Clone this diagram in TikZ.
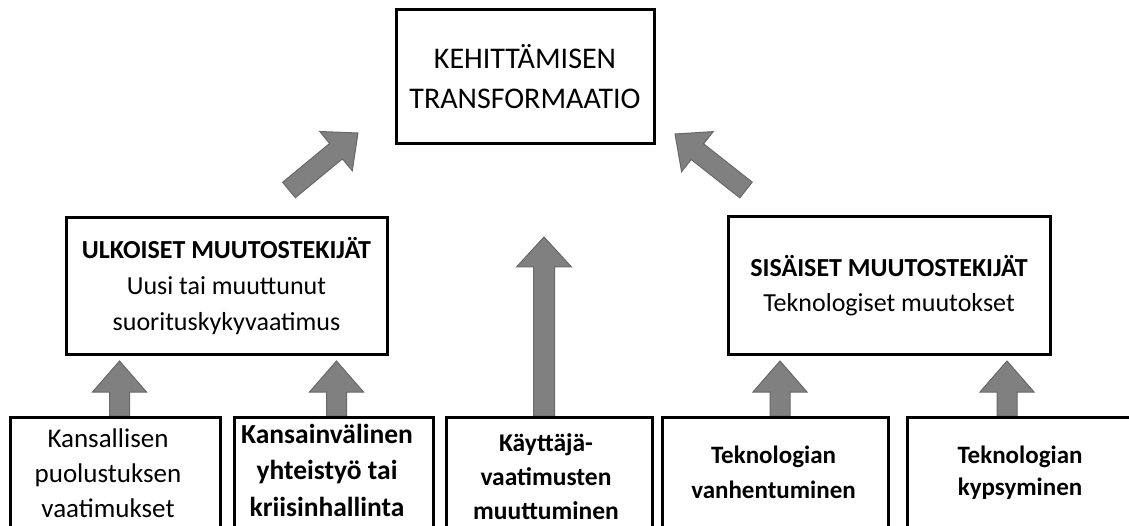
\documentclass[tikz,border=0pt]{standalone}
\usepackage{fontspec}
\setmainfont{Carlito}
\usetikzlibrary{calc}
\definecolor{arrowgray}{RGB}{128,128,128}
\definecolor{arrowedge}{RGB}{104,104,104}
\tikzset{
  box/.style={draw=black, line width=3pt, fill=white, inner sep=0pt, align=center},
  boxtext/.style={anchor=base, align=center, inner sep=0pt},
  flow/.style={fill=arrowgray, draw=arrowedge, line width=1pt, line join=miter},
}
% block arrow from #1 (tail) to #2 (tip):
% #3 half shaft width, #4 half head width, #5 head length
\newcommand\blockarrow[5]{%
  \coordinate (ba-base) at ($(#2)!#5!(#1)$);
  \path[flow] ($(#1)!#3!90:(#2)$) -- ($(ba-base)!#3!90:(#2)$)
    -- ($(ba-base)!#4!90:(#2)$) -- (#2) -- ($(ba-base)!#4!-90:(#2)$)
    -- ($(ba-base)!#3!-90:(#2)$) -- ($(#1)!#3!-90:(#2)$) -- cycle;
}
\begin{document}
\begin{tikzpicture}[x=1pt,y=-1pt]
\useasboundingbox (0,0) rectangle (1129,526);
\fill[white] (0,0) rectangle (1129,526);
\clip (0,0) rectangle (1129,526);

% top level
\node[box, minimum width=258pt, minimum height=134pt,
      font=\fontsize{30}{40}\selectfont] (goal) at (525,77)
  {KEHITTÄMISEN\\TRANSFORMAATIO};

% change drivers
\node[box, minimum width=321pt, minimum height=136pt,
      font=\fontsize{26}{36}\selectfont] (ext) at (226.5,286)
  {\textbf{ULKOISET MUUTOSTEKIJÄT}\\Uusi tai muuttunut\\suorituskykyvaatimus};
\node[box, minimum width=322pt, minimum height=137pt,
      font=\fontsize{26}{35}\selectfont] (int) at (889,285.5)
  {\textbf{SISÄISET MUUTOSTEKIJÄT}\\Teknologiset muutokset};

% arrow end points
\coordinate (s1) at (119.5,416);  \coordinate (e1) at (119.5,361);
\coordinate (s2) at (336.5,416);  \coordinate (e2) at (336.5,361);
\coordinate (s3) at (544,416);    \coordinate (e3) at (544,237);
\coordinate (s4) at (780,416);    \coordinate (e4) at (780,361);
\coordinate (s5) at (1007,416);   \coordinate (e5) at (1007,361);
\coordinate (sl) at (289,190);    \coordinate (el) at (358,133);
\coordinate (sr) at (746,190);    \coordinate (er) at (675,134);

\blockarrow{sl}{el}{10pt}{25.5pt}{28.5pt}
\blockarrow{sr}{er}{10pt}{25.5pt}{28.5pt}
\blockarrow{s1}{e1}{10pt}{27pt}{31pt}
\blockarrow{s2}{e2}{10pt}{27pt}{31pt}
\blockarrow{s3}{e3}{10.5pt}{27.5pt}{30pt}
\blockarrow{s4}{e4}{10pt}{27pt}{31pt}
\blockarrow{s5}{e5}{10pt}{27pt}{31pt}

% source boxes along the bottom
\node[box, anchor=north, minimum width=210pt, minimum height=150pt] (b1) at (115,416) {};
\node[box, anchor=north, minimum width=199pt, minimum height=150pt] (b2) at (333.5,416) {};
\node[box, anchor=north, minimum width=206pt, minimum height=150pt] (b3) at (549,416) {};
\node[box, anchor=north, minimum width=226pt, minimum height=150pt] (b4) at (775,416) {};
\node[box, anchor=north, minimum width=226pt, minimum height=150pt] (b5) at (1020,416) {};

% texts are placed by the baseline of their last line
\node[boxtext, font=\fontsize{27}{35}\selectfont] (t1) at (108,517)
  {Kansallisen\\puolustuksen\\vaatimukset};
\node[boxtext, font=\bfseries\fontsize{27.5}{36.5}\selectfont] (t2) at (327,516)
  {Kansainvälinen\\yhteistyö tai\\kriisinhallinta};
\node[boxtext, font=\bfseries\fontsize{25.5}{34}\selectfont] (t3) at (546,519)
  {Käyttäjä-\\vaatimusten\\muuttuminen};
\node[boxtext, font=\bfseries\fontsize{25}{35}\selectfont] (t4) at (773.5,498)
  {Teknologian\\vanhentuminen};
\node[boxtext, font=\bfseries\fontsize{25}{32}\selectfont] (t5) at (1020,495)
  {Teknologian\\kypsyminen};
\end{tikzpicture}
\end{document}
